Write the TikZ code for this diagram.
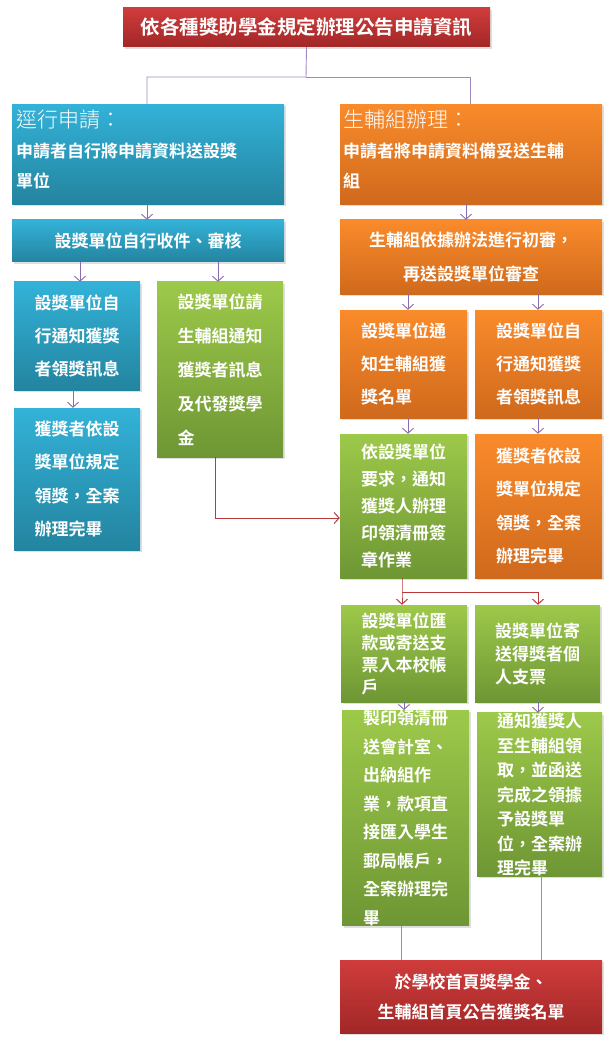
\documentclass[tikz,border=0pt]{standalone}
\usepackage{fontspec}
\setmainfont{Noto Sans CJK TC}[BoldFont={* Bold}]
\newfontfamily\lightcjk{Noto Sans CJK TC Light}
\usetikzlibrary{arrows.meta,shadows}
\definecolor{pur}{HTML}{8A6BB0}
\definecolor{rline}{HTML}{B83A3A}
\tikzset{
 box/.style={rectangle,inner sep=0pt,text=white,font=\bfseries,drop shadow={opacity=0.25,shadow xshift=2pt,shadow yshift=-2pt}},
 bluebox/.style={box,top color=blue!0!cyan!0!white!0!bl1,bottom color=bl2},
 orangebox/.style={box,top color=or1,bottom color=or2},
 greenbox/.style={box,top color=gr1,bottom color=gr2},
 redbox/.style={box,top color=rd1,bottom color=rd2},
 parr/.style={pur,line width=0.9pt,-{Straight Barb[length=5pt,width=11pt]}},
 rarr/.style={rline,line width=1pt,-{Straight Barb[length=5pt,width=11pt]}},
 pline/.style={pur!80,line width=0.9pt},
}
\definecolor{bl1}{HTML}{33B2D8}\definecolor{bl2}{HTML}{23849F}
\definecolor{or1}{HTML}{FA8B2B}\definecolor{or2}{HTML}{CF691C}
\definecolor{gr1}{HTML}{9DC94A}\definecolor{gr2}{HTML}{6E9634}
\definecolor{rd1}{HTML}{D03C3C}\definecolor{rd2}{HTML}{A22727}
% \bx{name}{x1}{y1}{x2}{y2}{style}{fontsize}{baselineskip}{align}{text}
\newcommand{\bx}[9]{%
 \node[#6,minimum width={#4-#2},minimum height={#5-#3},align=#9,
   font=\bfseries\fontsize{#7}{#8}\selectfont] (#1) at ({(#2+#4)/2},{(#3+#5)/2})}
\begin{document}
\begin{tikzpicture}[x=1pt,y=-1pt]
\useasboundingbox (0,0) rectangle (615,1040);
\bx{top}{123}{8}{490}{47}{redbox}{19.5}{24}{center}{依各種獎助學金規定辦理公告申請資訊};
\node[bluebox,minimum width=272,minimum height=100,anchor=north west] (b1) at (12,104) {};
\node[anchor=north west,text=white,align=left,inner sep=0pt,font=\bfseries\fontsize{17}{30}\selectfont] (b1t) at (16,110)
 {{\lightcjk\mdseries\fontsize{21}{24}\selectfont 逕行申請：}\\申請者自行將申請資料送設獎\\單位};
\node[orangebox,minimum width=262,minimum height=100,anchor=north west] (o1) at (340,104) {};
\node[anchor=north west,text=white,align=left,inner sep=0pt,font=\bfseries\fontsize{17}{30}\selectfont] (o1t) at (343,110)
 {{\lightcjk\mdseries\fontsize{21}{24}\selectfont 生輔組辦理：}\\申請者將申請資料備妥送生輔\\組};
\bx{b2}{12}{220}{284}{262}{bluebox}{17}{24}{center}{設獎單位自行收件、審核};
\bx{o2}{340}{220}{602}{294}{orangebox}{17}{34}{center}{生輔組依據辦法進行初審，\\再送設獎單位審查};
\bx{b3}{14}{282}{140}{390}{bluebox}{17}{33}{left}{設獎單位自\\行通知獲獎\\者領獎訊息};
\bx{g1}{157}{282}{283}{457}{greenbox}{17}{34}{left}{設獎單位請\\生輔組通知\\獲獎者訊息\\及代發獎學\\金};
\bx{b4}{14}{408}{140}{550}{bluebox}{17}{33.5}{left}{獲獎者依設\\獎單位規定\\領獎，全案\\辦理完畢};
\bx{o3}{340}{310}{467}{418}{orangebox}{17}{33}{left}{設獎單位通\\知生輔組獲\\獎名單};
\bx{o4}{475}{310}{602}{418}{orangebox}{17}{33}{left}{設獎單位自\\行通知獲獎\\者領獎訊息};
\bx{g2}{340}{434}{467}{578}{greenbox}{17}{27}{left}{依設獎單位\\要求，通知\\獲獎人辦理\\印領清冊簽\\章作業};
\bx{o5}{475}{434}{602}{578}{orangebox}{17}{33.5}{left}{獲獎者依設\\獎單位規定\\領獎，全案\\辦理完畢};
\bx{g3}{341}{605}{467}{702}{greenbox}{17}{22}{left}{設獎單位匯\\款或寄送支\\票入本校帳\\戶};
\bx{g4}{475}{605}{600}{702}{greenbox}{17}{23}{left}{設獎單位寄\\送得獎者個\\人支票};
\bx{g5}{342}{716}{469}{920}{greenbox}{17}{28.5}{left}{製印領清冊\\送會計室、\\出納組作\\業，款項直\\接匯入學生\\郵局帳戶，\\全案辦理完\\畢};
\bx{g6}{477}{714}{602}{875}{greenbox}{17}{24.5}{left}{通知獲獎人\\至生輔組領\\取，並函送\\完成之領據\\予設獎單\\位，全案辦\\理完畢};
\bx{bot}{340}{960}{602}{1033}{redbox}{17}{30}{center}{於學校首頁獎學金、\\生輔組首頁公告獲獎名單};
% connectors
\draw[pline] (top.south) -- (306,77) -| (b1.north -| 147,0);
\draw[pline] (306,77) -| (o1.north -| 470,0);
\draw[parr] (b1.south -| 147,0) -- (b2.north -| 147,0);
\draw[parr] (o1.south -| 466,0) -- (o2.north -| 466,0);
\draw[parr] (b2.south -| 80,0) -- (b3.north -| 80,0);
\draw[parr] (b2.south -| 218,0) -- (g1.north -| 218,0);
\draw[parr] (b3.south -| 73,0) -- (b4.north -| 73,0);
\draw[parr] (o2.south -| 408,0) -- (o3.north -| 408,0);
\draw[parr] (o2.south -| 538,0) -- (o4.north -| 538,0);
\draw[parr] (o3.south -| 408,0) -- (g2.north -| 408,0);
\draw[parr] (o4.south -| 538,0) -- (o5.north -| 538,0);
\draw[rarr] (g1.south -| 215,0) |- (g2.west |- 0,518);
\draw[rarr] (g2.south -| 402,0) -- (402,592) -- (g3.north -| 402,0);
\draw[rarr] (402,592) -| (g4.north -| 538,0);
\draw[parr] (g3.south -| 404,0) -- (g5.north -| 404,0);
\draw[parr] (g4.south -| 538,0) -- (g6.north -| 538,0);
\draw[pline] (g5.south -| 401,0) -- (bot.north -| 401,0);
\draw[pline] (g6.south -| 541,0) -- (bot.north -| 541,0);
\end{tikzpicture}
\end{document}
